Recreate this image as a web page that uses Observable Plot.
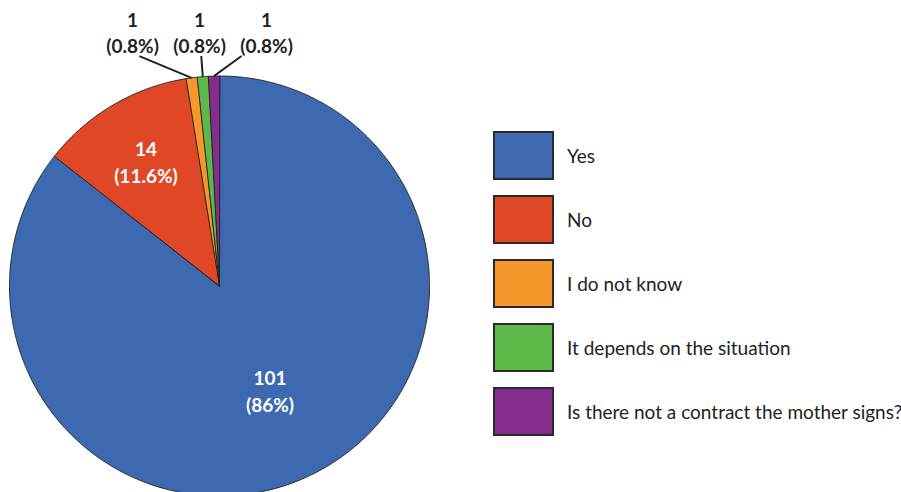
<!DOCTYPE html>
<html>
<head>
<meta charset="utf-8">
<script src="https://cdn.jsdelivr.net/npm/d3@7"></script>
<script src="https://cdn.jsdelivr.net/npm/@observablehq/plot@0.6"></script>
<style>
  html, body { margin: 0; padding: 0; background: #fff; overflow: hidden; }
  #wrap { position: relative; width: 901px; height: 492px; font-family: Lato, "Open Sans", sans-serif; }
  #chart svg { display: block; }
  #legend { position: absolute; left: 493px; top: 131px; }
  .item { display: flex; align-items: center; height: 49px; margin-bottom: 15px; }
  .sw { width: 57px; height: 45px; border: 2px solid #2a2a2a; box-sizing: content-box; }
  .lab { margin-left: 13px; font-size: 19px; color: #222; white-space: nowrap; }
</style>
</head>
<body>
<div id="wrap">
  <div id="chart"></div>
  <div id="legend"></div>
</div>
<script>
// ---- data ----
const categories = ["Yes", "No", "I do not know", "It depends on the situation", "Is there not a contract the mother signs?"];
const counts = [101, 14, 1, 1, 1];
const labels = ["101\n(86%)", "14\n(11.6%)", "1\n(0.8%)", "1\n(0.8%)", "1\n(0.8%)"];
const colors = ["#3D69B1", "#E04726", "#F7962A", "#5DB848", "#842D8E"];

// ---- layout ----
const W = 901, H = 492;
const cx = 219, cy = 285.5, R = 210;

const arcs = d3.pie().sort(null).value(d => d)(counts);
const total = d3.sum(counts);

// slice polygons in unit coordinates (x right, y down, angle clockwise from 12 o'clock)
const pts = [];
arcs.forEach((a, i) => {
  const cat = categories[i];
  pts.push({cat, x: 0, y: 0});
  const n = Math.max(2, Math.ceil((a.endAngle - a.startAngle) / 0.005));
  for (let k = 0; k <= n; k++) {
    const t = a.startAngle + (a.endAngle - a.startAngle) * k / n;
    pts.push({cat, x: Math.sin(t), y: -Math.cos(t)});
  }
});

// labels
const inner = [], outer = [], leaders = [];
const small = arcs.map((a, i) => ({a, i})).filter(d => d.a.value / total < 0.02);
const midArc = small.length ? small[Math.floor(small.length / 2)].a : null;
const midSmall = midArc ? Math.sin((midArc.startAngle + midArc.endAngle) / 2) - 0.015 : 0;
const startShift = [0.032, 0.008, -0.119];
arcs.forEach((a, i) => {
  const mid = (a.startAngle + a.endAngle) / 2;
  const share = a.value / total;
  if (share >= 0.02) {
    const rr = share > 0.5 ? 0.55 : 0.69;
    inner.push({x: rr * Math.sin(mid), y: -rr * Math.cos(mid), text: labels[i]});
  } else {
    const k = small.findIndex(s => s.i === i);
    const lx = midSmall + (k - (small.length - 1) / 2) * 0.319;
    outer.push({x: lx, y: -1.212, text: labels[i]});
    leaders.push({x1: lx + (startShift[k] || 0), y1: -1.095, x2: Math.sin(mid), y2: -Math.cos(mid)});
  }
});

const chart = Plot.plot({
  width: W, height: H, margin: 0,
  x: {domain: [-cx / R, (W - cx) / R], range: [0, W], axis: null},
  y: {domain: [-cy / R, (H - cy) / R], range: [0, H], axis: null},
  color: {domain: categories, range: colors},
  style: {fontFamily: "Lato, 'Open Sans', sans-serif", background: "white"},
  marks: [
    Plot.line(pts, {x: "x", y: "y", z: "cat", fill: "cat", stroke: "#262626", strokeWidth: 1, strokeLinejoin: "round", curve: "linear-closed", clip: true}),
    Plot.link(leaders, {x1: "x1", y1: "y1", x2: "x2", y2: "y2", stroke: "#222", strokeWidth: 2}),
    Plot.text(inner, {x: "x", y: "y", text: "text", fill: "white", fontSize: 19, fontWeight: "bold", lineHeight: 1.42, lineAnchor: "middle"}),
    Plot.text(outer, {x: "x", y: "y", text: "text", fill: "#222", fontSize: 19, fontWeight: "bold", lineHeight: 1.36, lineAnchor: "middle"})
  ]
});
document.getElementById("chart").appendChild(chart);

// legend
const legend = document.getElementById("legend");
categories.forEach((c, i) => {
  const it = document.createElement("div");
  it.className = "item";
  const sw = document.createElement("div");
  sw.className = "sw";
  sw.style.background = colors[i];
  const lb = document.createElement("div");
  lb.className = "lab";
  lb.textContent = c;
  it.appendChild(sw); it.appendChild(lb);
  legend.appendChild(it);
});
</script>
</body>
</html>
